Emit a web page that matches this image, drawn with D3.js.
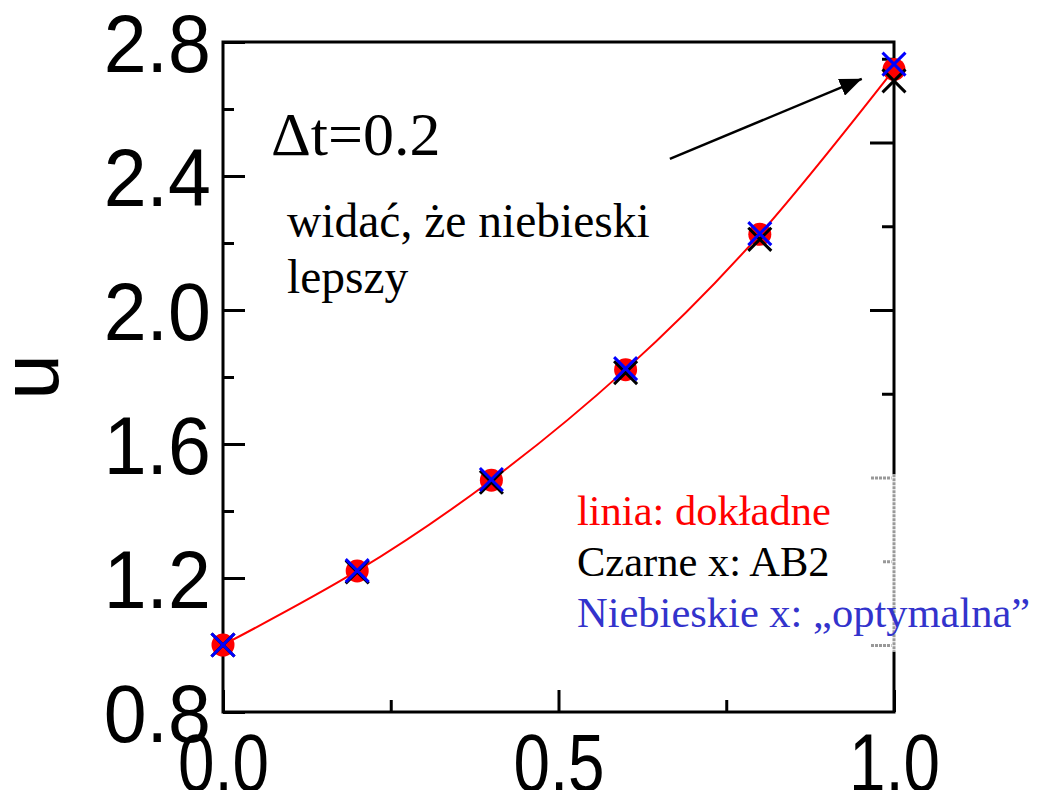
<!DOCTYPE html>
<html>
<head>
<meta charset="utf-8">
<script src="https://cdn.jsdelivr.net/npm/d3@7"></script>
<style>
  body { margin: 0; background: #fff; }
</style>
</head>
<body>
<svg id="chart" width="1037" height="790"></svg>
<script>
// data
const tValues = [0, 0.2, 0.4, 0.6, 0.8, 1.0];
const exactU = [1.0, 1.221, 1.492, 1.822, 2.226, 2.718];   // red line + dots
const ab2U = [1.0, 1.218, 1.486, 1.813, 2.211, 2.684];     // black x
const optU = [1.0, 1.222, 1.494, 1.825, 2.228, 2.734];     // blue x

const xTicks = [0, 0.5, 1.0];
const xMinorTicks = [0.25, 0.75];
const yTicks = [0.8, 1.2, 1.6, 2.0, 2.4, 2.8];
const yMinorTicks = [1.0, 1.4, 1.8, 2.2, 2.6];
const rightTicks = [1.0, 1.5, 2.0, 2.5];
const rightMinorTicks = [1.25, 1.75, 2.25, 2.75];

const legendLines = ["linia: dokładne", "Czarne x: AB2", "Niebieskie x: „optymalna”"];
const legendColors = ["#ff0000", "#000000", "#3333cc"];
const noteLines = ["widać, że niebieski", "lepszy"];

const margin = {left: 223, top: 42};
const width = 671;
const height = 670;

const sans = "'Liberation Sans', Arial, sans-serif";
const serif = "'Liberation Serif', 'Times New Roman', serif";

const svg = d3.select("#chart");
const g = svg.append("g")
  .attr("transform", "translate(" + margin.left + "," + margin.top + ")");

const x = d3.scaleLinear().domain([0, 1]).range([0, width]);
const y = d3.scaleLinear().domain([0.8, 2.8]).range([height, 0]);

function styleAxis(sel) {
  sel.attr("font-family", sans).attr("font-size", 82);
  sel.selectAll("line").attr("stroke", "#000").attr("stroke-width", 3);
  sel.selectAll("path.domain").remove();
  sel.selectAll("text").attr("fill", "#000");
}

// bottom axis
const xAxis = g.append("g")
  .attr("transform", "translate(0," + height + ")")
  .call(d3.axisBottom(x).tickValues(xTicks).tickSizeInner(-22).tickSizeOuter(0)
    .tickPadding(21).tickFormat(d3.format(".1f")))
  .call(styleAxis);
xAxis.selectAll("text").attr("transform", "scale(0.8,1)");

g.append("g")
  .attr("transform", "translate(0," + height + ")")
  .call(d3.axisBottom(x).tickValues(xMinorTicks).tickSizeInner(-12).tickSizeOuter(0).tickFormat(""))
  .call(styleAxis);

// left axis
const yAxis = g.append("g")
  .call(d3.axisLeft(y).tickValues(yTicks).tickSizeInner(-22).tickSizeOuter(0)
    .tickPadding(13).tickFormat(d3.format(".1f")))
  .call(styleAxis);
yAxis.selectAll("text").attr("dy", "0.36em").attr("transform", "scale(0.94,1)");

g.append("g")
  .call(d3.axisLeft(y).tickValues(yMinorTicks).tickSizeInner(-11).tickSizeOuter(0).tickFormat(""))
  .call(styleAxis);

// right axis (different tick spacing)
const rAxis = g.append("g")
  .attr("transform", "translate(" + width + ",0)")
  .call(d3.axisRight(y).tickValues(rightTicks).tickSizeInner(-24).tickSizeOuter(0).tickFormat(""))
  .call(styleAxis);
const rMinor = g.append("g")
  .attr("transform", "translate(" + width + ",0)")
  .call(d3.axisRight(y).tickValues(rightMinorTicks).tickSizeInner(-12).tickSizeOuter(0).tickFormat(""))
  .call(styleAxis);

// frame
g.append("rect")
  .attr("x", 0).attr("y", 0)
  .attr("width", width).attr("height", height)
  .attr("fill", "none")
  .attr("stroke", "#000")
  .attr("stroke-width", 3);

// grey patch on the right axis seen in the picture
g.append("line")
  .attr("x1", width).attr("x2", width)
  .attr("y1", y(1.51)).attr("y2", y(0.98))
  .attr("stroke", "#fff").attr("stroke-width", 5);
g.append("line")
  .attr("x1", width).attr("x2", width)
  .attr("y1", y(1.51)).attr("y2", y(0.98))
  .attr("stroke", "#999").attr("stroke-width", 3)
  .attr("stroke-dasharray", "3,1");
[rAxis, rMinor].forEach(a => a.selectAll(".tick")
  .filter(d => d >= 1.0 && d <= 1.5)
  .select("line")
  .attr("stroke", "#999")
  .attr("stroke-dasharray", "3,1"));

// y label
g.append("text")
  .attr("transform", "translate(" + (58 - margin.left) + "," + (377 - margin.top) + ") rotate(-90)")
  .attr("text-anchor", "middle")
  .attr("font-family", sans)
  .attr("font-size", 82)
  .text("u");

// exact solution curve
const line = d3.line()
  .x((d, i) => x(tValues[i]))
  .y(d => y(d))
  .curve(d3.curveNatural);

g.append("path")
  .datum(exactU)
  .attr("d", line)
  .attr("fill", "none")
  .attr("stroke", "#ff0000")
  .attr("stroke-width", 2);

g.selectAll(".dot")
  .data(exactU)
  .enter()
  .append("circle")
  .attr("class", "dot")
  .attr("cx", (d, i) => x(tValues[i]))
  .attr("cy", d => y(d))
  .attr("r", 11.5)
  .attr("fill", "#ff0000");

const cross = d3.symbol(d3.symbolX, 347);

g.selectAll(".ab2")
  .data(ab2U)
  .enter()
  .append("path")
  .attr("class", "ab2")
  .attr("d", cross)
  .attr("transform", (d, i) => "translate(" + x(tValues[i]) + "," + y(d) + ")")
  .attr("fill", "none")
  .attr("stroke", "#000")
  .attr("stroke-width", 3);

g.selectAll(".opt")
  .data(optU)
  .enter()
  .append("path")
  .attr("class", "opt")
  .attr("d", cross)
  .attr("transform", (d, i) => "translate(" + x(tValues[i]) + "," + y(d) + ")")
  .attr("fill", "none")
  .attr("stroke", "#0000ff")
  .attr("stroke-width", 3);

// annotations
g.append("text")
  .attr("x", 271 - margin.left)
  .attr("y", 155 - margin.top)
  .attr("font-family", serif)
  .attr("font-size", 62)
  .text("Δt=0.2");

g.selectAll(".note")
  .data(noteLines)
  .enter()
  .append("text")
  .attr("class", "note")
  .attr("x", 287 - margin.left)
  .attr("y", (d, i) => 237 - margin.top + i * 56)
  .attr("font-family", serif)
  .attr("font-size", 47.5)
  .text(d => d);

svg.append("defs").append("marker")
  .attr("id", "head")
  .attr("markerUnits", "userSpaceOnUse")
  .attr("viewBox", "0 -9 22 18")
  .attr("refX", 22).attr("refY", 0)
  .attr("markerWidth", 22).attr("markerHeight", 18)
  .attr("orient", "auto")
  .append("path")
  .attr("d", "M0,-9L22,0L0,9Z")
  .attr("fill", "#000");

g.append("line")
  .attr("x1", x(0.666)).attr("y1", y(2.451))
  .attr("x2", x(0.952)).attr("y2", y(2.69))
  .attr("stroke", "#000")
  .attr("stroke-width", 2.5)
  .attr("marker-end", "url(#head)");

g.selectAll(".legend")
  .data(legendLines)
  .enter()
  .append("text")
  .attr("class", "legend")
  .attr("x", 577 - margin.left)
  .attr("y", (d, i) => 525 - margin.top + i * 51)
  .attr("font-family", serif)
  .attr("font-size", 42.5)
  .attr("fill", (d, i) => legendColors[i])
  .text(d => d);
</script>
</body>
</html>
